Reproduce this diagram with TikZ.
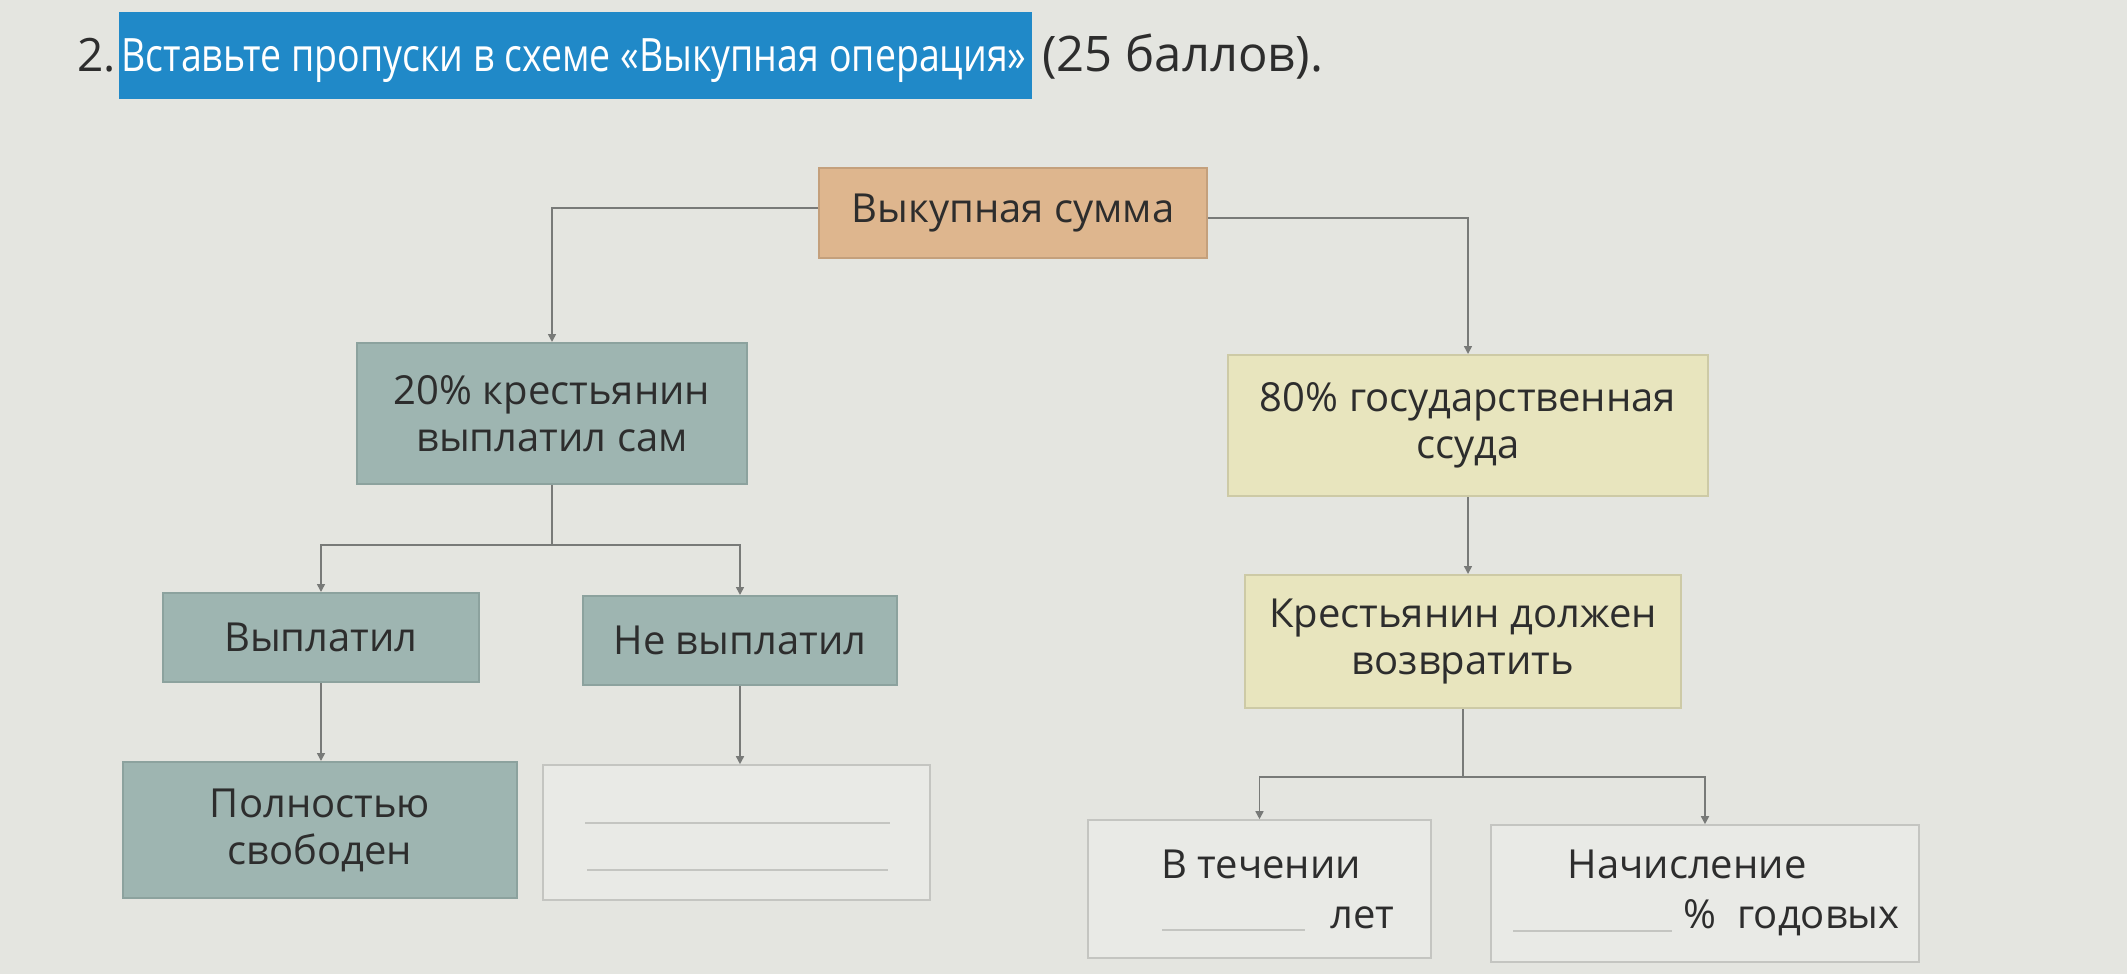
\documentclass[tikz,border=0pt]{standalone}
\usepackage{fontspec}
\setmainfont{Open Sans}
\usetikzlibrary{arrows.meta}
\definecolor{bg}{RGB}{228,229,224}
\definecolor{orangebox}{RGB}{222,182,142}
\definecolor{orangeedge}{RGB}{196,160,124}
\definecolor{tealbox}{RGB}{158,181,177}
\definecolor{tealedge}{RGB}{140,162,158}
\definecolor{yellowbox}{RGB}{232,229,190}
\definecolor{yellowedge}{RGB}{205,202,166}
\definecolor{blankfill}{RGB}{233,234,230}
\definecolor{blankedge}{RGB}{196,197,193}
\definecolor{conn}{RGB}{120,122,120}
\definecolor{ink}{RGB}{45,45,45}
\definecolor{hl}{RGB}{32,137,200}
\begin{document}
\begin{tikzpicture}[x=0.5pt,y=-0.5pt,
  box/.style={draw, line width=1pt, inner sep=0pt, align=center, text=ink,
    font=\fontsize{20pt}{23.5pt}\selectfont},
  orangenode/.style={box, fill=orangebox, draw=orangeedge},
  tealnode/.style={box, fill=tealbox, draw=tealedge},
  yellownode/.style={box, fill=yellowbox, draw=yellowedge},
  blanknode/.style={box, fill=blankfill, draw=blankedge, line width=0.8pt},
  txt/.style={text=ink, inner sep=0pt, font=\fontsize{20pt}{23.5pt}\selectfont},
  link/.style={draw=conn, line width=0.8pt},
  arr/.style={link, -{Triangle[length=4pt,width=4pt]}},
  gap/.style={draw=blankedge, line width=0.8pt}
]
\fill[bg] (0,0) rectangle (2127,974);
\useasboundingbox (0,0) rectangle (2127,974);

% heading
\fill[hl] (119,12) rectangle (1032,99);
\node[anchor=base west, inner sep=0pt, text=ink, font=\fontsize{23pt}{26pt}\selectfont] (num) at (77,72) {2.};
\node[anchor=base west, inner sep=0pt, text=white, font=\fontsize{23pt}{26pt}\selectfont] (title) at (121,72) {\scalebox{0.815}[1]{Вставьте пропуски в схеме «Выкупная операция»}};
\node[anchor=base west, inner sep=0pt, text=ink, font=\fontsize{24.5pt}{26pt}\selectfont] (score) at (1042,72) {(25 баллов).};

% boxes
\node[orangenode, minimum width=194pt, minimum height=45pt] (sum) at (1013,213) {Выкупная сумма};
\node[tealnode, minimum width=195pt, minimum height=70.5pt] (p20) at (552,413.5) {20\% крестьянин\\выплатил сам};
\node[yellownode, minimum width=240pt, minimum height=70.5pt] (p80) at (1468,425.5) {80\% государственная\\ссуда};
\node[tealnode, minimum width=158pt, minimum height=44.5pt] (paid) at (321,637.5) {Выплатил};
\node[tealnode, minimum width=157pt, minimum height=44.5pt] (notpaid) at (740,640.5) {Не выплатил};
\node[yellownode, minimum width=218pt, minimum height=66.5pt] (must) at (1463,641.5) {Крестьянин должен\\возвратить};
\node[tealnode, minimum width=197pt, minimum height=68pt] (free) at (320,830) {Полностью\\свободен};
\node[blanknode, minimum width=193.5pt, minimum height=67.5pt] (blank) at (736.5,832.5) {};
\node[blanknode, minimum width=171.5pt, minimum height=69pt] (years) at (1259.5,889) {};
\node[blanknode, minimum width=214pt, minimum height=68.5pt] (percent) at (1705,893.5) {};

% blanks inside the empty box
\draw[gap] (585,823) -- (890,823);
\draw[gap] (587,870) -- (888,870);

% texts of the two lower right boxes
\node[txt, anchor=base] (yearsA) at (1261,878) {В течении};
\node[txt, anchor=base west] (yearsB) at (1330,928) {лет};
\draw[gap] (1162,930) -- (1305,930);
\node[txt, anchor=base] (percA) at (1687,878) {Начисление};
\node[txt, anchor=base west] (percB) at (1683,928) {\%\ \ годовых};
\draw[gap] (1513,931) -- (1672,931);

% connectors
\draw[arr] ([yshift=2.5pt]sum.west) -| (p20.north);
\draw[arr] ([yshift=-2.5pt]sum.east) -| (p80.north);
\coordinate (j1) at (552,545);
\draw[link] (p20.south) -- (j1);
\draw[arr] (j1) -| (paid.north);
\draw[arr] (j1) -| (notpaid.north);
\draw[arr] (paid.south) -- (paid.south |- free.north);
\draw[arr] (notpaid.south) -- (notpaid.south |- blank.north);
\draw[arr] (p80.south) -- (p80.south |- must.north);
\coordinate (j2) at (1463,777);
\draw[link] (must.south) -- (j2);
\draw[arr] (j2) -| (years.north);
\draw[arr] (j2) -| (percent.north);
\end{tikzpicture}
\end{document}
